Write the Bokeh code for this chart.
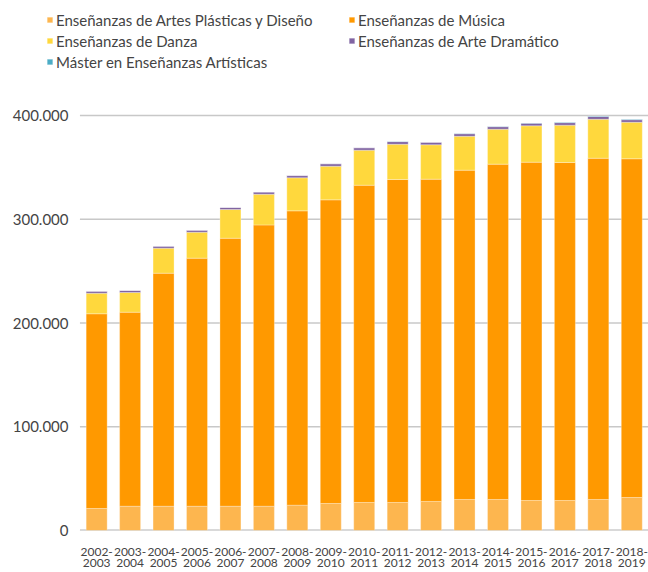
from bokeh.plotting import figure
from bokeh.models import (FactorRange, Range1d, Legend, LegendItem, FixedTicker,
                          ColumnDataSource, CategoricalAxis, Grid)
from bokeh.embed import file_html
from bokeh.resources import INLINE

# ---------------- data ----------------
years = ["2002-2003", "2003-2004", "2004-2005", "2005-2006", "2006-2007",
         "2007-2008", "2008-2009", "2009-2010", "2010-2011", "2011-2012",
         "2012-2013", "2013-2014", "2014-2015", "2015-2016", "2016-2017",
         "2017-2018", "2018-2019"]
x_line1 = [y.split("-")[0] + "-" for y in years]
x_line2 = [y.split("-")[1] for y in years]

series_names = ["Enseñanzas de Artes Plásticas y Diseño",
                "Enseñanzas de Música",
                "Enseñanzas de Danza",
                "Enseñanzas de Arte Dramático",
                "Máster en Enseñanzas Artísticas"]

plasticas = [21200, 23400, 23400, 23400, 23400, 23400, 24400, 26000, 27000,
             27000, 28000, 29900, 29900, 28900, 28900, 29900, 31800]
musica = [187700, 187000, 224600, 239100, 258300, 271100, 283700, 292700,
          305800, 311300, 310600, 317400, 323200, 326100, 325800, 328900, 326500]
danza = [19800, 19000, 24100, 25000, 27700, 29600, 31900, 32400, 33800,
         34000, 33200, 32700, 33700, 35100, 36000, 37600, 35200]
drama = [1900, 2000, 1900, 1900, 2000, 2100, 2100, 2400, 2300, 2500, 2300,
         2400, 2400, 2400, 2400, 2600, 2400]
master = [0, 0, 0, 0, 0, 0, 0, 0, 100, 200, 200, 300, 300, 300, 300, 400, 400]

y_ticks = [0, 100000, 200000, 300000, 400000]
y_tick_labels = ["0", "100.000", "200.000", "300.000", "400.000"]

colors = ["#FDB64F", "#FF9900", "#FFD83D", "#8064A2", "#4BACC6"]
keys = ["plasticas", "musica", "danza", "drama", "master"]

source = ColumnDataSource(dict(year=years, plasticas=plasticas, musica=musica,
                               danza=danza, drama=drama, master=master))

# ---------------- layout ----------------
W, H = 648, 572
frame_left = 46                # frame starts where the legend starts
zero_px = 530
px_400k = 115
y_end = 400000 * zero_px / (zero_px - px_400k)
PAD = " "                      # empty leading slot (room for the y labels)

p = figure(x_range=FactorRange(PAD, *years), y_range=Range1d(0, y_end),
           width=W, height=H, output_backend="svg", toolbar_location=None,
           x_axis_location=None,
           min_border_left=frame_left, min_border_right=0, min_border_top=0,
           min_border_bottom=H - zero_px, outline_line_color=None,
           background_fill_color="white", border_fill_color="white")

p.extra_x_ranges = {"line1": FactorRange(PAD, *x_line1),
                    "line2": FactorRange(PAD, *x_line2)}

# horizontal grid lines + zero line, starting where the first slot ends
grid_ticks = y_ticks[1:]
p.segment(x0=[(PAD, 0.5)] * len(grid_ticks), x1=[(years[-1], 0.5)] * len(grid_ticks),
          y0=grid_ticks, y1=grid_ticks, line_color="#c8c8c8", line_width=1.5)
p.segment(x0=[(PAD, 0.5)], x1=[(years[-1], 0.5)], y0=[y_ticks[0]], y1=[y_ticks[0]],
          line_color="#b4b4b4", line_width=2)

renderers = p.vbar_stack(keys, x="year", width=0.628, color=colors,
                         line_color="white", line_width=0.6, line_alpha=0.5,
                         source=source)

# no automatic grids (the grid lines are drawn above)
for g in p.select(type=Grid):
    g.visible = False

# y axis (labels pulled right, into the empty leading slot)
p.yaxis.ticker = FixedTicker(ticks=y_ticks)
p.yaxis.major_label_overrides = {t: l for t, l in zip(y_ticks, y_tick_labels)}
p.yaxis.axis_line_color = None
p.yaxis.major_tick_line_color = None
p.yaxis.minor_tick_line_color = None
p.yaxis.major_label_standoff = -28
p.yaxis.major_label_text_font = "Lato"
p.yaxis.major_label_text_font_size = "15px"
p.yaxis.major_label_text_color = "#444444"

# x axes: two stacked axes give two-line labels
def x_axis(range_name, standoff):
    ax = CategoricalAxis(x_range_name=range_name, axis_line_color=None,
                         major_tick_line_color=None, minor_tick_line_color=None,
                         major_label_standoff=standoff,
                         major_label_text_font="Lato",
                         major_label_text_font_size="12px",
                         major_label_text_color="#444444")
    p.add_layout(ax, "below")
    return ax

x_axis("line1", 7)
x_axis("line2", -13)

# legends (two columns) inside the top of the frame
def make_legend(idx, loc):
    return Legend(items=[LegendItem(label=series_names[i], renderers=[renderers[i]])
                         for i in idx],
                  location=loc, orientation="vertical",
                  border_line_color=None, background_fill_alpha=0,
                  padding=0, margin=0, spacing=0,
                  glyph_width=7, glyph_height=7, label_height=21,
                  label_standoff=3, label_text_font="Lato",
                  label_text_font_size="15px", label_text_color="#444444")

legA = make_legend([0, 2, 4], (0, zero_px - 9 - 63))
legB = make_legend([1, 3], (302, zero_px - 9 - 42))
p.add_layout(legA)
p.add_layout(legB)

open("out.html", "w").write(file_html(p, INLINE))
